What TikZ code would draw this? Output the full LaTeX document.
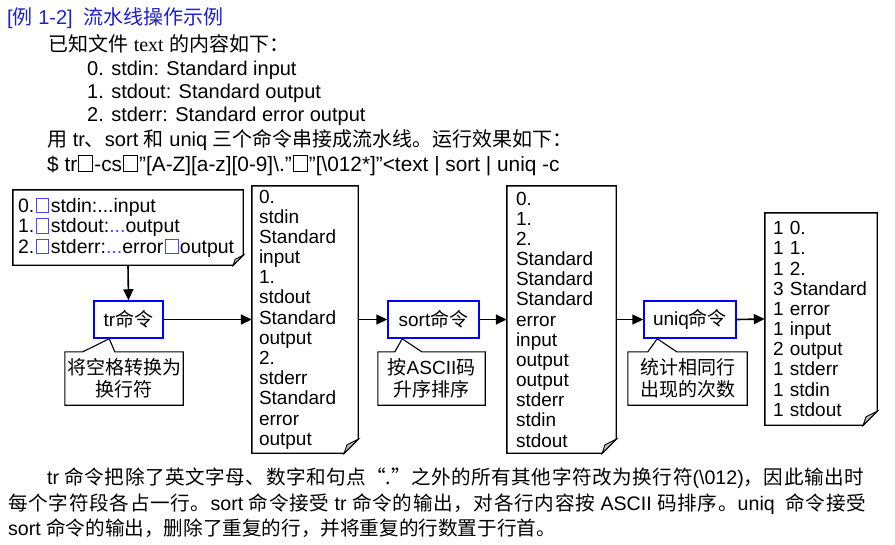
\documentclass[tikz,border=0pt]{standalone}
\usepackage{fontspec}
\setmainfont{Liberation Sans}
\newfontfamily\zh{Noto Sans CJK SC}
\newfontfamily\tms{Liberation Serif}
\usetikzlibrary{arrows.meta}
\definecolor{titleblue}{RGB}{30,30,210}
\definecolor{boxblue}{RGB}{0,0,255}
\definecolor{sqblue}{RGB}{70,70,255}
\definecolor{flapgray}{RGB}{190,190,190}
% interchar glue for justified CJK lines
\newXeTeXintercharclass\cjkcls
\count255="3000 \loop\ifnum\count255<"3040 \XeTeXcharclass\count255=\cjkcls \advance\count255 by 1 \repeat
\count255="4E00 \loop\ifnum\count255<"A000 \XeTeXcharclass\count255=\cjkcls \advance\count255 by 1 \repeat
\count255="FF00 \loop\ifnum\count255<"FFF0 \XeTeXcharclass\count255=\cjkcls \advance\count255 by 1 \repeat
\XeTeXinterchartoks\cjkcls\cjkcls={\hskip0pt plus 1fil\relax}
\newcommand\just[2]{{\XeTeXinterchartokenstate=1 \hbox to #1{#2}}}
\newcommand\bsq[1][black]{{\hspace{1.5pt}\setlength\fboxsep{0pt}\setlength\fboxrule{0.9pt}\color{#1}\fbox{\rule{0pt}{0.68em}\hspace{0.6em}}\hspace{1.5pt}}}
\newcommand\csq{{\hspace{1pt}\setlength\fboxsep{0pt}\setlength\fboxrule{0.9pt}\fbox{\rule{0pt}{0.72em}\hspace{0.64em}}\hspace{1pt}}}
\newcommand\docout[2]{%
  \draw[line width=1.4pt] (#1.north west) -- (#1.north east) -- ([yshift=#2]#1.south east) -- ([xshift=-#2]#1.south east) -- (#1.south west) -- cycle;
  \draw[line width=0.9pt, fill=flapgray] ([xshift=-#2]#1.south east) -- ([yshift=#2]#1.south east) -- ([xshift=-0.8*#2, yshift=0.6*#2]#1.south east) -- cycle;}
% callout: name, command node, base1 offset, tip offset, base2 offset
\newcommand\callout[5]{%
  \draw[line width=1.1pt] (#1.north west) -- ([xshift=#3]#1.north west) -- ([xshift=#4]#2.south west) -- ([xshift=#5]#1.north west) -- (#1.north east) -- (#1.south east) -- (#1.south west) -- cycle;}
\tikzset{
  arr/.style={line width=1.6pt, -{Triangle[length=11pt,width=10pt]}},
  cmd/.style={draw=boxblue, line width=1.5pt, minimum height=37pt, inner sep=0pt, font=\fontsize{19}{22}\selectfont},
  note/.style={draw=none, minimum height=53pt, inner sep=0pt, align=center, font=\fontsize{19}{22}\selectfont\zh},
  doc/.style={draw=none, inner ysep=0pt, align=left, font=\fontsize{19}{20.17}\selectfont},
  line/.style={anchor=base west, inner sep=0pt, font=\fontsize{20}{24}\selectfont},
  para/.style={anchor=base west, inner sep=0pt, font=\fontsize{19.6}{24}\selectfont}
}
\begin{document}
\begin{tikzpicture}[x=1pt,y=-1pt]
\useasboundingbox (0,0) rectangle (895,544);
% header text
\node[line, text=titleblue] (title) at (7,24) {[{\zh 例} 1-2]\ \ {\zh 流水线操作示例}};
\node[line] (known) at (48,51) {{\zh 已知文件} {\tms text} {\zh 的内容如下：}};
\node[line] (l0) at (87,75) {0. stdin: Standard input};
\node[line] (l1) at (87,98) {1. stdout: Standard output};
\node[line] (l2) at (87,121) {2. stderr: Standard error output};
\node[line] (use) at (47,146) {{\zh 用} tr{\zh 、}sort {\zh 和} uniq {\zh 三个命令串接成流水线。运行效果如下：}};
\node[line, font=\fontsize{20.8}{24}\selectfont] (cmdline) at (47,171) {\$ tr\csq-cs\csq”[A-Z][a-z][0-9]\textbackslash.”\csq”[\textbackslash012*]”<text | sort | uniq -c};
% documents
\node[doc, minimum width=230pt, minimum height=75pt, text width=220pt, inner xsep=5pt, font=\fontsize{19.5}{20.5}\selectfont] (b1) at (128,227.5)
 {0.\bsq[sqblue]stdin:...input\\1.\bsq[sqblue]stdout:{\color{sqblue}...}output\\2.\bsq[sqblue]stderr:{\color{sqblue}...}error\bsq[sqblue]output};
\docout{b1}{10pt}
\node[doc, minimum width=106pt, minimum height=267pt, text width=92pt, inner xsep=7pt] (d2) at (305,319.5)
 {0.\\stdin\\Standard\\input\\1.\\stdout\\Standard\\output\\2.\\stderr\\Standard\\error\\output};
\docout{d2}{14pt}
\node[doc, minimum width=109pt, minimum height=267pt, text width=91pt, inner xsep=9pt] (d3) at (561.5,319.5)
 {0.\\1.\\2.\\Standard\\Standard\\Standard\\error\\input\\output\\output\\stderr\\stdin\\stdout};
\docout{d3}{14pt}
\node[doc, minimum width=112pt, minimum height=212pt, text width=96pt, inner xsep=8pt] (d4) at (821,319)
 {1 0.\\1 1.\\1 2.\\3 Standard\\1 error\\1 input\\2 output\\1 stderr\\1 stdin\\1 stdout};
\docout{d4}{14pt}
% commands
\node[cmd, minimum width=69pt] (tr) at (128.5,319.5) {tr{\zh 命令}};
\node[cmd, minimum width=91pt] (sort) at (433.5,319.5) {sort{\zh 命令}};
\node[cmd, minimum width=92pt] (uniq) at (690,319.5) {uniq{\zh 命令}};
% notes
\node[note, minimum width=118pt] (c1) at (124,378.5) {将空格转换为\\换行符};
\node[note, minimum width=107pt] (c2) at (431.5,378.5) {按{\rmfamily ASCII}码\\升序排序};
\node[note, minimum width=119pt] (c3) at (687.5,378.5) {统计相同行\\出现的次数};
\callout{c1}{tr}{18pt}{16pt}{50pt}
\callout{c2}{sort}{17pt}{15pt}{44pt}
\callout{c3}{uniq}{20pt}{14pt}{49pt}
% arrows
\draw[arr] (b1.south) -- (tr.north);
\draw[arr] (tr.east) -- (d2.west);
\draw[arr] (d2.east) -- (sort.west);
\draw[arr] (sort.east) -- (d3.west);
\draw[arr] (d3.east) -- (uniq.west);
\draw[arr] (uniq.east) -- (d4.west);
% paragraph
\node[para] (p1) at (47,484) {\just{817pt}{tr {\zh 命令把除了英文字母、数字和句点“.”之外的所有其他字符改为换行符}(\textbackslash012){\zh ，因此输出时}}};
\node[para] (p2) at (8,510) {\just{858pt}{{\zh 每个字符段各占一行。}sort {\zh 命令接受} tr {\zh 命令的输出，对各行内容按} ASCII {\zh 码排序。}uniq\ \ {\zh 命令接受}}};
\node[para] (p3) at (8,535) {sort {\zh 命令的输出，删除了重复的行，并将重复的行数置于行首。}};
\end{tikzpicture}
\end{document}
